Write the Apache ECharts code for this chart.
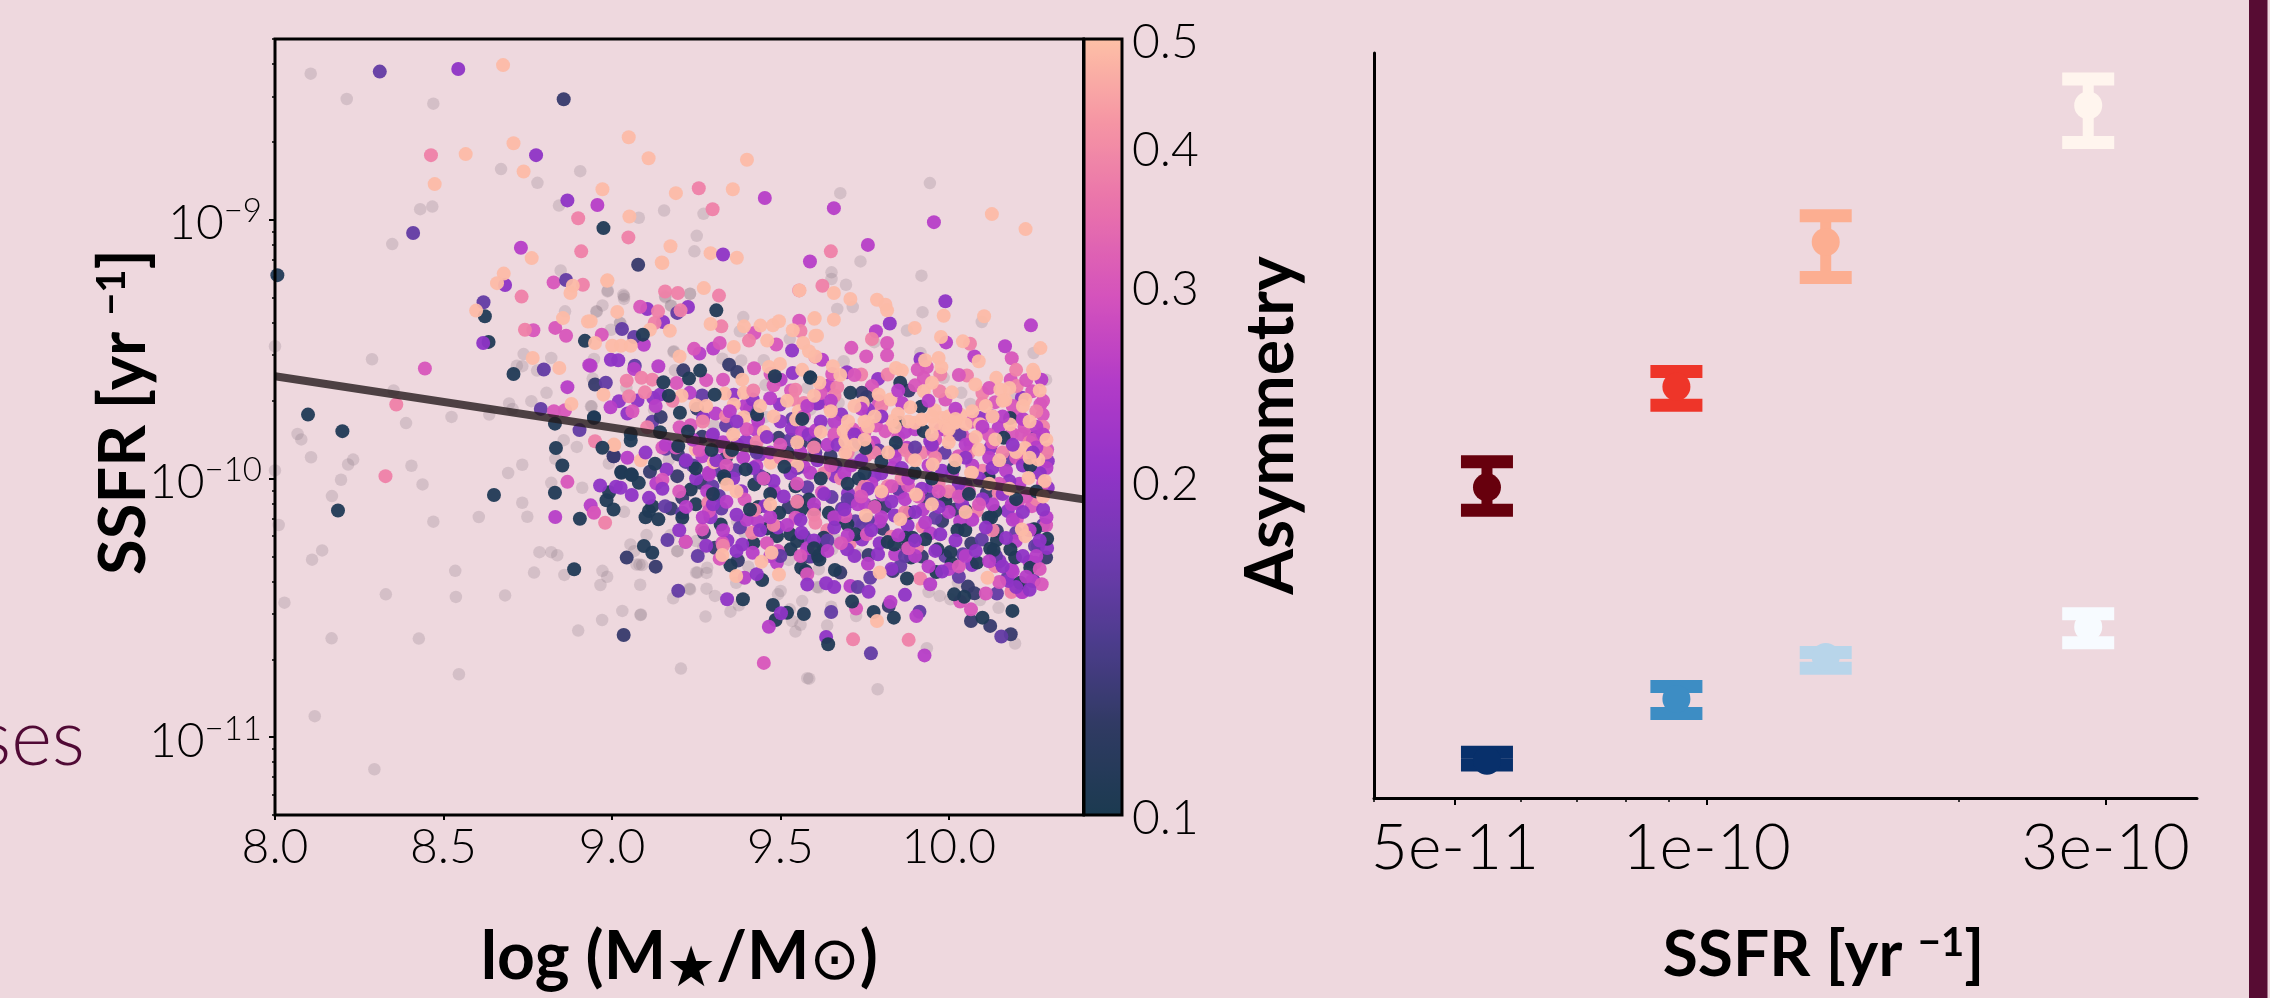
<!DOCTYPE html>
<html><head><meta charset="utf-8">
<style>html,body{margin:0;padding:0;background:#eed8de}#c{width:2270px;height:998px}</style>
<script src="https://cdn.jsdelivr.net/npm/echarts@6/dist/echarts.min.js"></script>
</head><body><div id="c"></div>
<script>
// Left panel: [log10 stellar mass, log10 SSFR], grouped by asymmetry
const asymNavy=[[8.975,-9.032],[8.007,-9.214],[8.623,-9.373],[8.634,-9.472],[8.92,-9.468],[8.708,-9.596],[8.947,-9.763],[8.098,-9.753],[8.2,-9.817],[8.831,-9.788],[8.834,-9.882],[8.853,-9.95],[8.831,-10.055],[8.65,-10.064],[8.187,-10.124],[8.905,-10.156],[8.888,-10.351],[8.992,-10.053],[8.984,-10.084],[9.005,-10.12],[9.028,-9.978],[9.059,-9.987],[9.08,-10.017],[9.12,-10.107],[9.11,-10.126],[9.1,-10.15],[9.138,-10.158],[9.209,-10.152],[9.234,-10.043],[9.249,-10.1],[9.323,-10.178],[9.335,-10.001],[9.423,-10.023],[9.454,-10],[9.435,-10.11],[9.461,-10.193],[9.545,-10.03],[9.497,-10.133],[9.562,-10.12],[9.585,-10.081],[9.49,-10.223],[9.53,-10.216],[9.55,-10.242],[9.53,-10.274],[9.42,-10.25],[9.612,-10.3],[9.562,-10.345],[9.575,-10.358],[9.446,-10.393],[9.352,-10.336],[9.095,-10.261],[9.12,-10.287],[9.389,-10.467],[9.478,-10.489],[9.52,-10.519],[9.486,-10.547],[9.57,-10.524],[9.616,-10.313],[9.662,-10.354],[9.629,-10.229],[9.627,-10.259],[9.644,-10.133],[9.664,-10.158],[9.733,-10.001],[9.782,-10.107],[9.699,-10.177],[9.723,-10.216],[9.819,-10.246],[9.838,-10.255],[9.883,-10.133],[9.871,-10.229],[9.892,-10.229],[9.888,-10.306],[9.93,-10.235],[9.967,-10.274],[10.005,-10.284],[10.009,-10.328],[10.084,-10.325],[10.123,-10.272],[10.143,-10.238],[10.026,-10.2],[10.049,-10.2],[10.049,-10.122],[10.118,-10.152],[10.138,-10.126],[9.99,-10.088],[10.183,-10.274],[10.197,-10.306],[10.242,-10.345],[10.212,-10.403],[10.256,-10.197],[10.118,-9.998],[9.876,-10.387],[9.963,-10.362],[9.713,-10.476],[9.777,-10.516],[9.837,-10.538],[10.016,-10.448],[10.046,-10.457],[10.1,-10.538],[10.189,-10.512],[9.642,-10.641],[10.292,-10.233],[10.252,-10.196],[10.126,-10.151],[10.133,-10.277],[9.589,-9.611],[9.708,-9.669],[9.856,-9.63],[9.918,-9.723],[9.853,-9.785],[9.926,-9.817],[10.182,-9.766],[10.163,-9.843],[9.843,-9.862],[9.753,-9.882],[9.8,-9.935],[9.899,-9.978],[10.015,-9.959],[10.242,-9.95],[9.31,-9.35],[9.092,-9.444],[9.262,-9.583],[9.229,-9.614],[9.484,-9.605],[9.589,-9.609],[9.153,-9.628],[9.169,-9.68],[9.305,-9.676],[9.565,-9.77],[9.431,-9.753],[9.202,-9.746],[8.947,-9.766],[9.056,-9.828],[9.056,-9.853],[9.143,-9.821],[9.226,-9.818],[8.972,-9.881],[9.128,-9.943],[9.028,-9.974],[9.058,-9.984],[9.197,-9.875],[9.249,-9.961],[9.296,-9.89],[9.357,-9.89],[9.512,-9.955],[9.397,-9.965],[9.333,-9.991],[9.62,-10],[9.7,-10.02],[9.47,-10.06],[9.41,-10.12],[9.75,-9.98],[9.95,-10],[10.06,-10.06],[10.2,-10.08],[10.26,-10.05],[9.3,-10.06],[9.6,-10.27]];
const asymIndigo=[[8.857,-8.534],[9.078,-9.174],[9.348,-9.56],[9.372,-9.588],[9.212,-9.582],[8.95,-9.637],[9.253,-9.73],[9.495,-9.843],[9.56,-9.866],[9.6,-9.866],[9.522,-9.901],[9.268,-9.839],[9.005,-9.914],[9.113,-9.974],[9.196,-9.907],[9.426,-9.881],[9.339,-9.92],[9.194,-9.991],[9.145,-9.762],[9.044,-10.306],[9.035,-10.605],[9.13,-10.341],[9.175,-10.116],[9.209,-10.075],[9.264,-10.017],[9.525,-10.111],[9.6,-10.12],[9.585,-10.302],[9.374,-10.317],[9.306,-10.268],[9.273,-10.21],[9.81,-10.11],[9.762,-10.296],[9.804,-10.194],[9.876,-10.268],[9.92,-10.302],[9.935,-10.079],[10.067,-10.251],[10.143,-10.203],[9.98,-10.165],[10.019,-10.12],[10.113,-10.055],[9.822,-10.493],[9.834,-10.358],[10.057,-10.418],[10.076,-10.444],[10.066,-10.551],[10.123,-10.57],[10.184,-10.602],[9.678,-10.364],[10.289,-10.306],[9.604,-9.869],[9.649,-9.913],[10.118,-9.99],[9.881,-9.66],[9.742,-9.669],[9.757,-9.685]];
const asymViolet=[[8.311,-8.427],[8.41,-9.051],[8.864,-9.233],[8.619,-9.319],[8.798,-9.579],[8.789,-9.731],[8.904,-9.813],[9.006,-9.914],[9.194,-9.36],[9.03,-9.422],[9.066,-9.453],[9.068,-9.564],[8.982,-9.63],[9.268,-9.679],[9.12,-9.781],[9.339,-9.795],[9.41,-9.73],[9.53,-9.85],[9.16,-9.885],[9.219,-9.936],[9.367,-9.968],[9.32,-9.97],[9.535,-9.77],[9.158,-10.107],[9.209,-10.133],[9.298,-10.03],[9.318,-10.068],[9.325,-10.116],[9.553,-10.088],[9.58,-10.034],[9.57,-10.223],[9.165,-10.238],[9.255,-10.3],[9.197,-10.434],[9.592,-10.302],[9.652,-10.072],[9.683,-10.117],[9.723,-10.165],[9.745,-10.178],[9.96,-10.152],[10.024,-10.055],[9.99,-10.3],[10.042,-10.293],[10.098,-10.236],[10.256,-10.261],[9.767,-10.384],[9.856,-10.339],[9.651,-10.516],[9.913,-10.515],[10.143,-10.445],[10.156,-10.611],[9.769,-10.676],[10.177,-9.927],[9.988,-9.901],[9.792,-9.892],[9.733,-9.862],[9.604,-9.9],[9.664,-9.952],[10.252,-10.395],[10.265,-10.262],[10.173,-10.387],[10.032,-9.83],[9.44,-9.99],[9.55,-9.96],[9.7,-10.08],[9.85,-10.04],[10.05,-10.02],[10.2,-10.21],[9.95,-10.08],[9.76,-10.16],[9.64,-10.24],[9.5,-10.3],[9.38,-10.19],[9.73,-10.42],[9.87,-10.3],[10.03,-10.38],[10.14,-10.3],[9.43,-9.9],[9.24,-9.95],[10.28,-10.18],[10.26,-9.84],[9.9,-9.88]];
const asymPurple=[[8.544,-8.417],[8.775,-8.75],[8.868,-8.925],[8.683,-9.252],[8.618,-9.476],[9.105,-9.345],[9.226,-9.337],[9.152,-9.395],[8.997,-9.541],[9.019,-9.543],[9.535,-9.505],[9.537,-9.592],[9.021,-9.701],[9.076,-9.699],[9.046,-9.749],[9.123,-9.689],[9.143,-9.676],[9.362,-9.676],[9.418,-9.695],[9.499,-9.714],[9.609,-9.71],[9.271,-9.766],[9.534,-9.808],[9.584,-9.83],[9.372,-9.869],[9.398,-9.856],[9.441,-9.907],[9.162,-9.965],[9.33,-9.134],[9.99,-9.315],[9.825,-9.401],[9.916,-9.538],[9.698,-9.589],[9.79,-9.615],[9.614,-9.708],[9.762,-9.734],[9.681,-9.753],[10.217,-9.688],[10.093,-9.766],[9.945,-9.856],[10.064,-9.862],[10.123,-9.882],[10.148,-9.933],[9.841,-9.894],[8.965,-10.027],[9.012,-10.032],[9.026,-10.036],[9.059,-10.064],[9.11,-10.075],[9.293,-10.15],[9.384,-10.049],[9.454,-10.107],[9.493,-10.19],[9.563,-10.21],[9.387,-10.255],[9.343,-10.24],[9.219,-10.245],[9.342,-10.467],[9.502,-10.521],[9.662,-9.991],[9.701,-10.058],[9.711,-10.088],[9.698,-10.274],[9.743,-10.236],[9.79,-10.293],[9.795,-10.25],[9.839,-10.143],[9.878,-10.182],[9.975,-10.216],[9.993,-10.061],[10.069,-10.335],[10.175,-10.126],[10.151,-10.319],[10.177,-10.396],[10.256,-10.326],[9.636,-10.405],[9.762,-10.438],[9.636,-10.613],[10.292,-10.269],[10.294,-9.933],[10.294,-10.036],[9.78,-9.99],[9.95,-10.03],[9.31,-9.93],[9.36,-10],[9.42,-9.96],[9.48,-10.01],[9.53,-9.98],[9.61,-9.93],[9.67,-9.87],[9.74,-9.93],[9.8,-9.98],[9.86,-9.96],[9.92,-10.04],[9.98,-9.97],[10.03,-10.02],[10.09,-10],[10.13,-9.96],[10.18,-10.01],[10.22,-9.95],[10.27,-9.98],[9.63,-10.06],[9.69,-10.12],[9.76,-10.04],[9.83,-10.09],[9.9,-10.13],[9.97,-10.11],[10.04,-10.1],[10.1,-10.08],[10.16,-10.06],[10.22,-10.13],[10.28,-10.12],[9.25,-10],[9.3,-10.1],[9.37,-10.14],[9.44,-10.2],[9.51,-10.07],[9.56,-10.16],[9.6,-10.24],[9.66,-10.19],[9.72,-10.3],[9.77,-10.2],[9.83,-10.35],[9.9,-10.24],[9.96,-10.28],[10.02,-10.24],[10.08,-10.28],[10.11,-10.19],[10.17,-10.23],[10.22,-10.3],[10.27,-10.24],[10.16,-10.34],[10.2,-10.42],[10.24,-10.43],[9.98,-10.36],[9.87,-10.45],[9.66,-10.42],[9.58,-10.41],[9.43,-10.37],[9.37,-10.28],[9.28,-10.26],[9.2,-10.2],[9.15,-10.04],[9.22,-9.93],[9.1,-9.9],[9.3,-9.83],[9.46,-9.84],[9.37,-9.78],[9.5,-9.78],[9.62,-9.78],[9.72,-9.83],[9.8,-9.76],[9.95,-9.87],[10.05,-9.92],[10.19,-9.87],[10.25,-9.9]];
const asymMagenta=[[8.957,-8.943],[9.454,-8.916],[8.73,-9.108],[9.659,-8.955],[9.956,-9.009],[9.76,-9.097],[9.588,-9.161],[8.933,-9.562],[8.868,-9.647],[9.095,-9.483],[9.26,-9.517],[9.301,-9.498],[8.937,-9.564],[9.138,-9.566],[9.501,-9.618],[9.066,-9.577],[9.231,-9.669],[9.397,-9.717],[8.996,-9.725],[9.434,-9.776],[9.308,-9.749],[9.426,-9.811],[9.565,-9.821],[9.605,-9.815],[9.046,-9.92],[9.268,-9.914],[9.429,-9.952],[9.288,-9.978],[9.589,-9.978],[9.57,-9.955],[10.244,-9.408],[9.784,-9.431],[10.167,-9.489],[9.992,-9.474],[10.076,-9.528],[9.644,-9.641],[9.661,-9.781],[9.861,-9.708],[9.975,-9.811],[9.9,-9.81],[10.128,-9.759],[10.148,-9.804],[9.876,-9.881],[9.777,-9.862],[9.832,-9.959],[9.624,-9.541],[10.275,-9.618],[9.132,-10.019],[9.288,-9.985],[9.283,-10.049],[8.832,-10.149],[8.937,-10.104],[9.481,-10.049],[9.433,-10.165],[9.418,-10.287],[9.49,-10.326],[9.394,-10.384],[9.466,-10.573],[9.752,-10.1],[9.795,-10.167],[9.841,-10.293],[9.856,-10.055],[9.802,-10.062],[9.923,-10.12],[9.945,-10.212],[10.034,-10.165],[10.187,-10.352],[10.247,-10.396],[10.199,-10.242],[9.708,-10.416],[9.945,-10.409],[9.827,-10.478],[9.904,-10.532],[10.217,-10.439],[9.928,-10.684],[10.239,-10.321],[10.219,-10.439],[10.187,-10.1],[9.9,-10.3],[9.33,-9.86],[9.39,-9.92],[9.47,-9.9],[9.56,-9.9],[9.64,-9.87],[9.71,-9.95],[9.77,-10.02],[9.84,-9.92],[9.88,-10],[9.94,-9.95],[10.01,-9.98],[10.07,-9.95],[10.12,-9.92],[10.17,-9.97],[10.21,-10.02],[10.26,-9.88],[10.29,-9.96],[9.6,-10.1],[9.66,-10.15],[9.73,-10.1],[9.8,-10.15],[9.87,-10.08],[9.93,-10.17],[10,-10.13],[10.07,-10.16],[10.13,-10.1],[10.19,-10.16],[10.24,-10.2],[10.29,-10.15],[9.22,-10.11],[9.27,-10.15],[9.34,-10.09],[9.4,-10.16],[9.47,-10.15],[9.52,-10.18],[9.58,-10.27],[9.64,-10.28],[9.7,-10.22],[9.76,-10.33],[9.85,-10.22],[9.94,-10.34],[10,-10.35],[10.05,-10.3],[10.12,-10.32],[10.19,-10.36],[10.26,-10.3],[10.23,-10.38],[9.47,-10.3],[9.33,-10.2],[9.13,-9.72],[9.16,-9.87],[9.24,-9.85],[9.35,-9.74],[9.47,-9.69],[9.58,-9.72],[9.65,-9.7],[9.74,-9.73],[9.85,-9.66],[9.94,-9.7],[10.02,-9.73],[10.1,-9.8],[10.16,-9.76],[10.22,-9.77],[10.26,-9.8],[10.28,-9.83],[10.05,-9.87],[9.87,-9.82],[9.69,-9.98]];
const asymPink=[[8.827,-9.242],[8.832,-9.418],[8.767,-9.427],[8.864,-9.448],[8.445,-9.575],[8.828,-9.74],[8.861,-9.736],[8.868,-10.013],[8.946,-10.13],[9.084,-9.336],[8.97,-9.444],[9.244,-9.499],[9.32,-9.476],[9.423,-9.438],[9.488,-9.482],[9.556,-9.39],[9.422,-9.574],[9.471,-9.595],[9.33,-9.618],[9.192,-9.631],[9.061,-9.74],[9.532,-9.66],[9.201,-9.802],[9.234,-9.794],[9.298,-9.836],[9.323,-9.875],[9.15,-9.88],[9.817,-9.476],[9.711,-9.495],[9.755,-9.528],[9.817,-9.524],[10.187,-9.535],[9.908,-9.579],[9.935,-9.569],[9.926,-9.611],[9.654,-9.596],[10.184,-9.618],[10.138,-9.705],[9.99,-9.695],[9.772,-9.643],[9.792,-9.701],[9.716,-9.811],[9.784,-9.795],[9.812,-9.817],[9.75,-9.82],[10.069,-9.781],[10.2,-9.76],[10.039,-9.83],[10.118,-9.83],[10.217,-9.83],[10.187,-9.826],[10.029,-9.914],[9.955,-9.894],[10.292,-9.888],[10.248,-9.663],[10.272,-9.714],[10.279,-9.753],[10.225,-9.8],[10.24,-9.84],[8.947,-10.133],[9.15,-10.005],[9.288,-10.126],[9.394,-10.081],[9.545,-10.152],[9.268,-10.197],[9.219,-10.245],[9.328,-10.249],[9.493,-10.28],[9.451,-10.713],[9.624,-10.053],[9.693,-10.146],[9.757,-10.216],[9.879,-10.027],[10.059,-10.049],[10.202,-10.158],[10.247,-10.107],[10.205,-10.094],[9.725,-10.503],[10.034,-10.476],[10.11,-10.445],[10.066,-10.506],[10.289,-10.181],[10.276,-10.409],[9.4,-9.81],[9.5,-9.87],[9.57,-9.76],[9.66,-9.83],[9.76,-9.87],[9.85,-9.84],[9.96,-9.85],[10.07,-9.85],[10.13,-9.86],[10.2,-9.92],[10.25,-9.85],[10.28,-9.7],[10.23,-9.62],[10.19,-9.72],[10.12,-9.65],[10.03,-9.6],[9.9,-9.64],[9.72,-9.6],[9.62,-9.67],[9.48,-9.64],[9.28,-9.62],[9.19,-9.88],[9.34,-9.95],[9.45,-10],[9.55,-10.02],[9.65,-9.95],[9.74,-10.07],[9.83,-10.03],[9.91,-10.07],[9.97,-10.05],[10.03,-10.07],[10.09,-10.1],[10.15,-10.02],[10.23,-10.07],[10.28,-10.02],[9.68,-10.25],[9.88,-10.27],[10.03,-10.34],[10.15,-10.4],[10.27,-10.35],[9.56,-10.3],[9.78,-10.11],[9.58,-10.37],[9.32,-10.31],[9.46,-10.25],[9.2,-10.05],[9.26,-9.89]];
const asymSalmon=[[8.463,-8.75],[9.258,-8.878],[8.9,-8.994],[9.049,-9.068],[8.909,-9.122],[8.914,-9.251],[8.732,-9.297],[9.299,-8.959],[9.65,-9.122],[9.625,-9.255],[9.556,-9.273],[8.742,-9.425],[8.36,-9.714],[8.328,-9.991],[8.95,-9.856],[8.98,-10.171],[9.158,-9.277],[9.196,-9.283],[9.318,-9.293],[9.137,-9.354],[9.127,-9.399],[9.204,-9.35],[9.325,-9.412],[9.407,-9.467],[9.56,-9.43],[9.044,-9.622],[9.088,-9.611],[9.12,-9.618],[9.051,-9.682],[9.098,-9.667],[9.339,-9.759],[9.105,-9.802],[9.545,-9.657],[9.537,-9.695],[9.57,-9.708],[9.604,-9.53],[9.772,-9.461],[10.063,-9.479],[9.975,-9.598],[10.054,-9.602],[10.202,-9.643],[9.819,-9.598],[9.74,-9.598],[9.669,-9.647],[9.661,-9.68],[9.649,-9.731],[9.973,-9.663],[10.1,-9.71],[10.004,-9.83],[9.92,-9.901],[9.889,-9.917],[9.755,-9.911],[9.286,-10.094],[9.423,-10.122],[9.416,-10.21],[9.604,-10.171],[9.64,-10.2],[9.706,-10.252],[9.83,-10.225],[9.74,-10.049],[9.819,-10.03],[9.922,-10.187],[9.906,-10.265],[10.083,-10.126],[10.138,-10.339],[10.148,-10.055],[9.915,-10.387],[10.187,-10.435],[9.716,-10.622],[9.881,-10.624],[10.186,-10.439],[9.43,-9.86],[9.52,-9.92],[9.6,-9.88],[9.7,-9.9],[9.78,-9.9],[9.87,-9.89],[9.96,-9.92],[10.06,-9.9],[10.16,-9.9],[10.24,-9.86],[10.29,-9.9],[10.22,-9.92],[10.1,-9.97],[9.97,-10.02],[9.86,-10],[9.75,-10.03],[9.63,-9.98],[9.5,-9.92],[9.35,-9.9],[9.27,-9.78],[9.18,-9.7],[9.42,-9.66],[9.8,-9.72],[10.1,-9.67],[10.2,-9.58],[10.26,-9.74],[9.68,-10],[9.87,-10.13],[10.13,-10.2],[10.26,-10.08],[9.6,-10.14],[9.48,-10.18],[9.33,-10.26],[9.55,-10.09],[10,-10.05],[10.28,-9.8]];
const asymPeach=[[8.677,-8.402],[8.566,-8.746],[8.708,-8.704],[8.738,-8.813],[8.474,-8.862],[9.05,-8.681],[9.109,-8.762],[9.401,-8.768],[8.972,-8.882],[9.19,-8.897],[9.359,-8.882],[9.052,-8.987],[9.174,-9.102],[8.762,-9.148],[9.148,-9.165],[9.293,-9.129],[9.371,-9.147],[10.128,-8.978],[10.228,-9.036],[8.679,-9.208],[8.659,-9.245],[8.884,-9.255],[8.877,-9.283],[8.986,-9.236],[8.597,-9.351],[8.855,-9.38],[8.929,-9.393],[8.765,-9.534],[8.844,-9.573],[8.88,-9.712],[9.007,-9.871],[9.15,-9.167],[8.987,-9.234],[9.557,-9.273],[9.273,-9.264],[9.016,-9.356],[9.293,-9.403],[9.113,-9.425],[9.172,-9.429],[8.937,-9.392],[8.95,-9.476],[9.001,-9.487],[9.027,-9.487],[9.056,-9.487],[9.201,-9.528],[9.362,-9.492],[9.392,-9.412],[9.441,-9.409],[9.478,-9.408],[9.496,-9.392],[9.461,-9.467],[9.537,-9.427],[9.568,-9.476],[9.604,-9.448],[9.601,-9.383],[9.585,-9.508],[9.466,-9.569],[9.499,-9.557],[9.565,-9.58],[9.387,-9.618],[8.975,-9.676],[9.207,-9.68],[9.335,-9.672],[9.392,-9.669],[9.249,-9.717],[9.362,-9.714],[9.555,-9.74],[9.547,-9.772],[9.392,-9.763],[9.451,-9.82],[9.006,-9.869],[9.086,-9.93],[9.249,-9.888],[9.303,-9.937],[9.471,-9.939],[9.55,-9.95],[9.985,-9.371],[10.105,-9.373],[9.659,-9.283],[9.708,-9.306],[9.787,-9.309],[9.812,-9.328],[9.817,-9.35],[9.602,-9.38],[9.659,-9.386],[9.899,-9.418],[9.609,-9.448],[9.977,-9.453],[10.042,-9.47],[10.089,-9.547],[9.93,-9.543],[9.97,-9.534],[9.604,-9.528],[9.978,-9.57],[10.079,-9.637],[10.141,-9.611],[10.253,-9.592],[10.153,-9.656],[10.168,-9.697],[10.227,-9.695],[10.009,-9.667],[9.926,-9.663],[9.95,-9.63],[9.843,-9.573],[9.861,-9.583],[9.656,-9.566],[9.678,-9.6],[9.616,-9.63],[9.792,-9.675],[9.745,-9.708],[9.827,-9.695],[9.886,-9.725],[9.958,-9.736],[9.849,-9.75],[9.832,-9.778],[9.9,-9.785],[9.92,-9.772],[9.75,-9.779],[9.701,-9.779],[9.688,-9.817],[9.98,-9.766],[10,-9.759],[10.034,-9.753],[10.019,-9.785],[10.093,-9.79],[10.182,-9.791],[10.138,-9.849],[10.089,-9.888],[10.227,-9.882],[10.2,-9.898],[9.693,-9.856],[9.693,-9.901],[9.952,-9.946],[10.066,-9.978],[10.266,-9.927],[10.272,-9.496],[10.253,-9.595],[10.285,-10.01],[10.237,-9.998],[10.069,-9.978],[9.96,-9.79],[9.99,-9.8],[10.05,-9.79],[10,-9.81],[9.76,-9.8],[9.754,-10.143],[9.856,-10.158],[9.903,-10.062],[9.795,-10.364],[10.115,-10.384],[9.787,-10.551],[10.227,-10.223],[10.217,-10.197],[9.369,-10.377],[9.444,-10.322],[9.342,-10.023],[9.328,-10.296],[9.474,-10.287],[9.496,-10.371],[9.95,-9.76],[10.02,-9.77],[10.07,-9.74],[10.11,-9.72],[10.16,-9.7],[10.22,-9.72],[10.27,-9.66],[10.25,-9.58],[10.18,-9.65],[10.13,-9.76],[10.24,-9.78],[10.08,-9.84],[10,-9.86],[9.95,-9.83],[9.88,-9.78],[9.84,-9.8],[9.78,-9.76],[9.72,-9.72],[9.65,-9.74],[9.6,-9.68],[9.52,-9.7],[9.48,-9.76],[9.44,-9.72],[9.36,-9.83],[9.28,-9.72],[9.75,-9.85],[9.82,-9.9],[9.9,-9.93],[10.02,-9.93],[10.15,-9.93],[10.24,-9.92],[10.29,-9.85],[10.28,-10.07],[10.18,-10.04],[9.72,-9.87],[9.8,-10.05],[9.62,-9.82],[9.55,-9.86],[9.47,-10.1],[9.37,-10.05],[10.12,-10.02],[10.05,-10.13],[9.95,-10.1]];
const asymBins=[asymNavy,asymIndigo,asymViolet,asymPurple,asymMagenta,asymPink,asymSalmon,asymPeach];
const asymBinValues=[0.105,0.125,0.16,0.2,0.25,0.3,0.38,0.49];
// Left panel: galaxies without an asymmetry colour (faint grey dots)
const greyPoints=[[8.106,-8.435],[8.213,-8.533],[8.47,-8.551],[8.671,-8.804],[8.779,-8.857],[8.906,-8.812],[8.843,-8.945],[8.467,-8.949],[8.431,-8.959],[8.348,-9.094],[9.08,-8.992],[9.155,-8.964],[9.252,-9.062],[9.245,-9.122],[8.848,-9.196],[8.988,-9.274],[9.036,-9.296],[8.972,-9.331],[8.955,-9.355],[8.861,-9.354],[9.025,-9.399],[9.232,-9.286],[9.175,-9.332],[9.159,-9.3],[8.288,-9.539],[8.738,-9.519],[8.82,-9.534],[8.718,-9.564],[8.734,-9.566],[8.778,-9.583],[9.183,-9.511],[8.943,-9.614],[8,-9.489],[8.352,-9.66],[8.806,-9.669],[8.761,-9.701],[8.695,-9.71],[8.705,-9.731],[8.524,-9.762],[8.636,-9.753],[8.938,-9.721],[8.389,-9.786],[8.067,-9.828],[8.078,-9.849],[8.107,-9.918],[8.232,-9.927],[8.217,-9.946],[8.405,-9.951],[8.734,-9.947],[8.692,-9.979],[8.857,-9.852],[8.896,-9.878],[8.832,-9.924],[8.196,-10.005],[8.438,-10.023],[8.82,-10.017],[8,-9.969],[8.169,-10.068],[8.912,-10.036],[8.011,-10.18],[8.47,-10.167],[8.605,-10.149],[8.734,-10.094],[8.749,-10.148],[9.036,-10.129],[8.14,-10.278],[8.11,-10.314],[8.785,-10.285],[8.82,-10.285],[8.838,-10.297],[8.535,-10.357],[8.769,-10.364],[8.859,-10.373],[8.972,-10.357],[8.986,-10.38],[8.966,-10.412],[9.084,-10.411],[8.537,-10.458],[8.329,-10.448],[8.683,-10.452],[8.028,-10.48],[9.182,-10.463],[9.232,-10.429],[9.031,-10.512],[9.085,-10.528],[8.971,-10.547],[8.9,-10.588],[8.168,-10.618],[8.427,-10.619],[8.546,-10.757],[9.205,-10.735],[8.118,-10.919],[8.295,-11.124],[9.103,-10.219],[9.055,-10.255],[9.073,-10.333],[9.082,-10.333],[9.195,-10.281],[9.25,-10.364],[9.066,-10.281],[9.09,-10.335],[9.174,-10.219],[9.194,-10.281],[9.25,-10.242],[9.271,-10.268],[9.254,-10.364],[9.283,-10.345],[9.281,-10.365],[9.281,-10.426],[9.23,-10.426],[9.306,-10.454],[9.352,-10.515],[9.372,-10.165],[9.392,-10.206],[9.086,-10.526],[9.278,-10.534],[9.369,-10.403],[9.405,-10.341],[9.377,-10.49],[9.501,-10.435],[9.493,-10.448],[9.565,-10.474],[9.545,-10.592],[9.56,-10.566],[9.535,-10.551],[9.528,-10.506],[9.58,-10.772],[9.609,-10.42],[9.525,-10.315],[9.585,-10.255],[9.471,-10.165],[9.614,-10.422],[9.651,-10.496],[9.639,-10.568],[9.725,-10.532],[9.935,-10.656],[9.973,-10.454],[9.94,-10.439],[10.005,-10.467],[10.027,-10.403],[10.093,-10.47],[10.148,-10.5],[10.197,-10.638],[9.586,-10.774],[9.789,-10.815],[9.614,-10.351],[9.666,-10.236],[9.589,-10.251],[9.654,-10.274],[9.73,-10.294],[8.987,-9.277],[9.034,-9.29],[9.036,-9.306],[8.954,-9.354],[9.024,-9.399],[8.997,-9.425],[9.232,-9.286],[9.158,-9.296],[9.176,-9.332],[9.39,-9.376],[9.38,-9.431],[9.528,-9.461],[9.184,-9.508],[9.328,-9.537],[9.384,-9.544],[9.451,-9.543],[9.456,-9.639],[9.187,-9.582],[9.125,-9.734],[8.94,-9.721],[9.456,-9.762],[9.58,-9.65],[8.947,-9.538],[9.043,-9.65],[9.362,-9.817],[9.303,-9.794],[9.169,-9.927],[8.991,-9.942],[9.652,-9.203],[9.652,-9.229],[9.695,-9.251],[9.919,-9.216],[9.738,-9.161],[9.669,-9.345],[9.715,-9.337],[9.922,-9.357],[9.876,-9.428],[10.098,-9.395],[9.916,-9.515],[9.688,-9.547],[9.779,-9.473],[10.252,-9.515],[10.037,-9.669],[9.985,-9.611],[10.064,-9.712],[9.673,-9.708],[9.589,-9.734],[9.641,-9.791],[10.197,-9.676],[10.256,-9.849],[9.718,-9.901],[9.944,-8.858],[9.678,-8.897],[10.289,-9.618],[9.272,-8.977],[10.263,-9.847]];
// Left panel: fitted line
const trendMass=[8.0,10.4];
const trendLogSsfr=[-9.605,-10.081];
// Left panel ticks
const massTicks=[8.0,8.5,9.0,9.5,10.0];
const ssfrDecades=[-11,-10,-9];
const colorbarTicks=[0.1,0.2,0.3,0.4,0.5];
const colorbarColors=['#1b3a50','#2f3a62','#4c3c8c','#6f3ab0','#9233c8','#b23bc8','#d452bc','#e870ac','#f594a4','#fdc0a6'];
// Right panel: binned medians with error bars
const ssfrBins=[5.46e-11,9.2e-11,1.388e-10,2.86e-10];
const highAsym=[0.2751,0.3156,0.3739,0.4289];
const highAsymUp=[0.2854,0.3217,0.3845,0.4395];
const highAsymDown=[0.2659,0.3082,0.3596,0.414];
const lowAsym=[0.165,0.1899,0.2068,0.2189];
const lowAsymUp=[0.1684,0.1949,0.2086,0.2242];
const lowAsymDown=[0.1633,0.184,0.2022,0.2125];
const highColors=['#67000d','#ee3529','#fcae91','#fff5ee'];
const lowColors=['#08306b','#3d8dc4','#b8d5ea','#f7fbff'];
const rightTickLabels=[[5e-11,'5e-11'],[1e-10,'1e-10'],[3e-10,'3e-10']];
const rightMinorTicks=[4e-11,6e-11,7e-11,8e-11,9e-11,2e-10];

const lg=Math.log10;
const mixed=[];
const longest=Math.max(...asymBins.map(b=>b.length));
for(let i=0;i<longest;i++){asymBins.forEach((b,k)=>{if(i<b.length)mixed.push([b[i][0],b[i][1],lg(asymBinValues[k])]);});}
const decadeMinors=[];
[-12,-11,-10,-9].forEach(d=>{[2,3,4,5,6,7,8,9].forEach(m=>{const v=d+lg(m);if(v>=lg(5e-12)-1e-6&&v<=lg(5e-9)+1e-6)decadeMinors.push(v);});});

const FONT='Lato';
const tickStyle={fontFamily:FONT,fontWeight:300,fontSize:48,color:'#000'};
const titleStyle={fontFamily:FONT,fontWeight:700,fontSize:65,color:'#000'};
const supRich={s:{fontFamily:FONT,fontWeight:700,fontSize:40,padding:[0,0,24,0]},st:{fontFamily:'DejaVu Sans',fontWeight:400,fontSize:56,padding:[26,0,0,0]},su:{fontFamily:'DejaVu Sans',fontWeight:400,fontSize:60,padding:[10,0,0,0]}};

function errorBars(colors){return function(p,api){
  const x=api.coord([api.value(0),api.value(1)]);
  const hi=api.coord([api.value(0),api.value(2)]);
  const lo=api.coord([api.value(0),api.value(3)]);
  const c=colors[p.dataIndex];
  return {type:'group',children:[
    {type:'rect',shape:{x:x[0]-5.5,y:hi[1],width:11,height:lo[1]-hi[1]},style:{fill:c}},
    {type:'rect',shape:{x:x[0]-26,y:hi[1]-6.5,width:52,height:13},style:{fill:c}},
    {type:'rect',shape:{x:x[0]-26,y:lo[1]-6.5,width:52,height:13},style:{fill:c}},
    {type:'circle',shape:{cx:x[0],cy:x[1],r:14},style:{fill:c}}
  ]};
};}

const chart=echarts.init(document.getElementById('c'),null,{renderer:'canvas'});
chart.setOption({
  backgroundColor:'#eed8de',animation:false,
  grid:[
    {left:275,top:39,width:808.5,height:776,show:true,borderColor:'#000',borderWidth:3,backgroundColor:'transparent',z:6,outerBoundsMode:'none'},
    {left:1374,top:53,width:823,height:745,show:false,outerBoundsMode:'none'},
    {left:1084,top:39,width:38,height:776,show:true,borderColor:'#000',borderWidth:3,backgroundColor:'transparent',z:6,outerBoundsMode:'none'}
  ],
  xAxis:[
    {gridIndex:0,type:'value',min:8,max:10.4,splitLine:{show:false},axisLine:{show:false},
      axisTick:{show:true,customValues:massTicks,length:5,lineStyle:{color:'#000',width:2}},
      axisLabel:{customValues:massTicks,margin:9,formatter:v=>v.toFixed(1),...tickStyle},
      name:'log (M{st|★}/M{su|⊙})',nameLocation:'middle',nameGap:102,
      nameTextStyle:{...titleStyle,fontSize:66,rich:supRich}},
    {gridIndex:1,type:'value',min:lg(4e-11),max:-9.4135,splitLine:{show:false},
      axisLine:{show:true,lineStyle:{color:'#000',width:3}},
      axisTick:{show:true,customValues:rightTickLabels.map(t=>lg(t[0])),length:7,lineStyle:{color:'#000',width:2}},
      axisLabel:{customValues:rightTickLabels.map(t=>lg(t[0])),margin:18,...tickStyle,fontSize:64,
        formatter:v=>{const f=rightTickLabels.find(t=>Math.abs(lg(t[0])-v)<1e-6);return f?f[1]:'';}},
      name:'SSFR [yr {s|−1}]',nameLocation:'middle',nameGap:125,
      nameTextStyle:{...titleStyle,fontSize:64,rich:supRich,padding:[0,0,0,76]}},
    {gridIndex:1,type:'value',min:lg(4e-11),max:-9.4135,splitLine:{show:false},position:'bottom',
      axisLine:{show:false},
      axisTick:{show:true,customValues:rightMinorTicks.map(lg),length:4,lineStyle:{color:'#000',width:1.5}},
      axisLabel:{show:false}},
    {gridIndex:2,type:'value',min:0,max:1,show:false}
  ],
  yAxis:[
    {gridIndex:0,type:'value',min:lg(5e-12),max:lg(5e-9),splitLine:{show:false},axisLine:{show:false},
      axisTick:{show:true,customValues:ssfrDecades,length:6,lineStyle:{color:'#000',width:2}},
      axisLabel:{customValues:ssfrDecades,margin:13,formatter:v=>`{a|10}{p|−${-Math.round(v)}}`,
        rich:{a:{...tickStyle,padding:[8,0,0,0]},p:{...tickStyle,fontSize:33,padding:[0,0,16,0]}}},
      name:'SSFR [yr {s|−1}]',nameLocation:'middle',nameGap:118,nameMoveOverlap:false,
      nameTextStyle:{...titleStyle,rich:supRich,padding:[0,0,0,30]}},
    {gridIndex:0,type:'value',min:lg(5e-12),max:lg(5e-9),position:'left',splitLine:{show:false},axisLine:{show:false},
      axisTick:{show:true,customValues:decadeMinors,length:3,lineStyle:{color:'#000',width:1.5}},
      axisLabel:{show:false}},
    {gridIndex:1,type:'value',min:0.15,max:0.45,splitLine:{show:false},
      axisLine:{show:true,lineStyle:{color:'#000',width:3}},axisTick:{show:false},axisLabel:{show:false},
      name:'Asymmetry',nameLocation:'middle',nameGap:69,nameTextStyle:{...titleStyle,fontSize:66}},
    {gridIndex:2,type:'value',min:lg(0.1),max:lg(0.5),position:'right',splitLine:{show:false},axisLine:{show:false},
      axisTick:{show:true,customValues:colorbarTicks.map(lg),length:6,lineStyle:{color:'#000',width:2}},
      axisLabel:{customValues:colorbarTicks.map(lg),margin:10,formatter:v=>`{n|${Math.pow(10,v).toFixed(1)}}`,
        rich:{n:{...tickStyle,padding:[8,0,0,0]}}}}
  ],
  visualMap:{type:'continuous',seriesIndex:1,dimension:2,min:lg(0.1),max:lg(0.5),
    inRange:{color:colorbarColors},itemWidth:38,itemHeight:776,left:1084,top:39,padding:0,
    text:null,showLabel:false,calculable:false,hoverLink:false,realtime:false},
  series:[
    {type:'scatter',name:'no asymmetry',xAxisIndex:0,yAxisIndex:0,data:greyPoints,symbolSize:12.5,
      itemStyle:{color:'#7a6a78',opacity:0.22},silent:true,clip:true,z:2},
    {type:'scatter',name:'galaxies',xAxisIndex:0,yAxisIndex:0,data:mixed,symbolSize:14,
      itemStyle:{opacity:0.95},silent:true,clip:true,z:3},
    {type:'line',name:'fit',xAxisIndex:0,yAxisIndex:0,data:trendMass.map((m,i)=>[m,trendLogSsfr[i]]),
      symbol:'none',lineStyle:{color:'#241a1c',width:8,opacity:0.8},silent:true,z:4},
    {type:'custom',name:'high asymmetry',xAxisIndex:1,yAxisIndex:2,renderItem:errorBars(highColors),
      data:ssfrBins.map((s,i)=>[lg(s),highAsym[i],highAsymUp[i],highAsymDown[i]]),silent:true,z:3},
    {type:'custom',name:'low asymmetry',xAxisIndex:1,yAxisIndex:2,renderItem:errorBars(lowColors),
      data:ssfrBins.map((s,i)=>[lg(s),lowAsym[i],lowAsymUp[i],lowAsymDown[i]]),silent:true,z:3}
  ],
  graphic:[
    {type:'rect',shape:{x:2249,y:0,width:18.5,height:998},style:{fill:'#570c33'},silent:true},
    {type:'text',x:85,y:701,style:{text:'ses',fontFamily:FONT,fontWeight:300,fontSize:78,fill:'#500a35',align:'right',verticalAlign:'top'},silent:true}
  ]
});
</script></body></html>
